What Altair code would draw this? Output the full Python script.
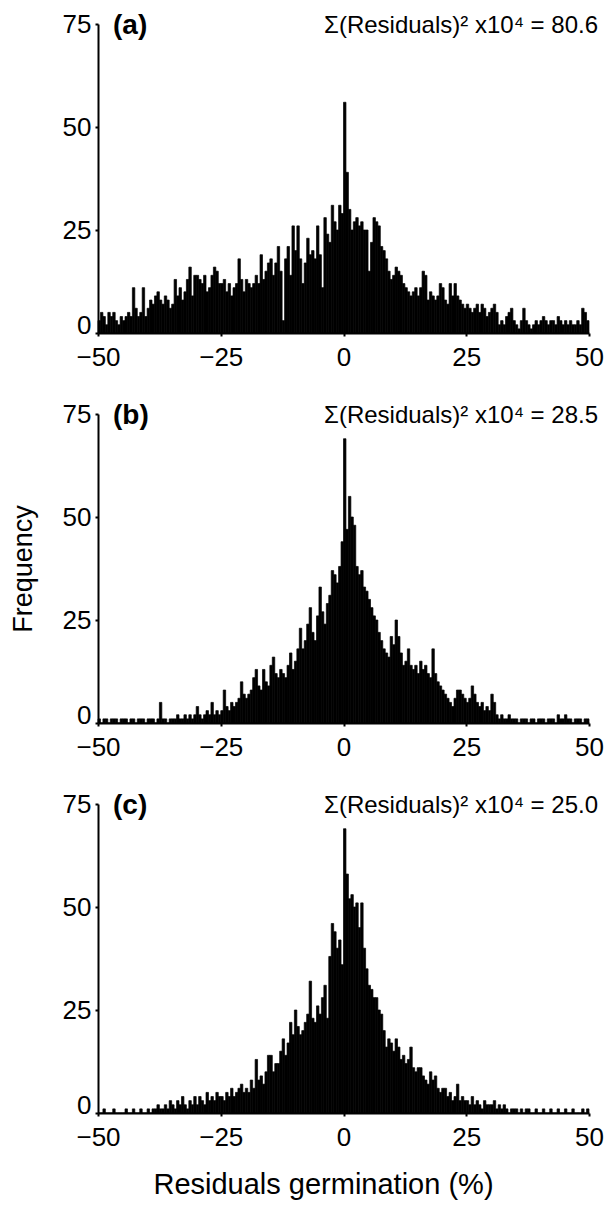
import altair as alt
import pandas as pd

# Histogram counts, bins of width 0.5 from -50 to 50 (200 bins per panel)
a_vals = [
    3, 5, 4, 2, 5, 4, 5, 3, 2, 4,
    3, 4, 5, 4, 11, 6, 4, 5, 11, 4,
    6, 8, 7, 9, 10, 8, 7, 9, 8, 6,
    7, 13, 9, 11, 8, 10, 13, 16, 9, 14,
    14, 13, 12, 14, 10, 11, 14, 16, 15, 12,
    12, 13, 10, 12, 9, 11, 12, 18, 13, 10,
    13, 12, 11, 12, 14, 12, 19, 13, 15, 17,
    18, 14, 17, 21, 15, 3, 18, 21, 14, 26,
    20, 26, 18, 12, 17, 23, 19, 20, 18, 26,
    19, 11, 28, 24, 22, 31, 27, 25, 31, 29,
    56, 39, 30, 25, 27, 28, 26, 27, 25, 25,
    15, 22, 28, 27, 26, 21, 20, 18, 15, 13,
    14, 16, 15, 14, 12, 11, 10, 9, 10, 11,
    9, 11, 15, 14, 8, 10, 9, 8, 9, 12,
    11, 8, 7, 12, 9, 12, 9, 8, 7, 6,
    7, 6, 5, 6, 7, 5, 7, 6, 4, 5,
    6, 7, 5, 2, 3, 2, 4, 5, 6, 3,
    2, 1, 3, 6, 3, 2, 1, 2, 3, 2,
    3, 4, 3, 2, 3, 3, 2, 4, 3, 2,
    3, 2, 3, 2, 2, 3, 2, 6, 5, 3,
]

b_vals = [
    1, 0, 1, 1, 0, 1, 1, 1, 0, 1,
    1, 1, 0, 1, 1, 0, 1, 1, 1, 0,
    1, 1, 1, 0, 1, 5, 1, 1, 0, 1,
    1, 1, 2, 1, 1, 2, 1, 2, 1, 2,
    4, 2, 1, 2, 3, 2, 5, 2, 3, 2,
    3, 8, 4, 3, 5, 4, 5, 6, 10, 7,
    6, 7, 8, 11, 13, 9, 8, 13, 10, 9,
    14, 16, 12, 11, 13, 12, 11, 14, 17, 13,
    15, 18, 23, 18, 20, 24, 28, 22, 20, 26,
    33, 27, 24, 29, 31, 37, 36, 34, 38, 44,
    69, 47, 55, 50, 48, 38, 36, 37, 33, 32,
    30, 28, 26, 25, 22, 20, 18, 17, 16, 21,
    19, 25, 21, 17, 14, 15, 18, 14, 13, 14,
    12, 15, 13, 14, 12, 11, 18, 12, 10, 9,
    8, 7, 6, 5, 4, 6, 8, 8, 7, 6,
    5, 6, 9, 7, 5, 4, 5, 3, 4, 3,
    7, 5, 2, 1, 2, 1, 1, 2, 1, 1,
    1, 0, 1, 1, 1, 0, 1, 1, 0, 1,
    1, 1, 0, 1, 1, 1, 0, 2, 1, 1,
    2, 1, 1, 0, 1, 1, 1, 0, 1, 1,
]

c_vals = [
    0, 0, 1, 0, 0, 0, 1, 0, 0, 0,
    0, 1, 0, 0, 1, 0, 0, 1, 0, 0,
    1, 0, 1, 1, 2, 1, 1, 2, 1, 3,
    2, 1, 3, 2, 4, 2, 1, 3, 2, 4,
    2, 4, 3, 2, 5, 3, 4, 3, 5, 4,
    4, 3, 5, 4, 6, 4, 5, 6, 7, 5,
    6, 5, 8, 6, 13, 8, 9, 7, 10, 14,
    14, 10, 12, 12, 15, 18, 14, 17, 22, 19,
    25, 21, 19, 20, 22, 24, 32, 23, 22, 26,
    24, 28, 31, 23, 38, 46, 44, 40, 42, 36,
    69, 58, 52, 53, 50, 51, 45, 51, 40, 35,
    31, 30, 28, 28, 25, 24, 20, 16, 18, 17,
    15, 18, 16, 13, 14, 12, 13, 16, 11, 10,
    11, 11, 9, 8, 7, 10, 8, 9, 6, 5,
    6, 6, 4, 5, 3, 4, 7, 3, 4, 3,
    3, 2, 4, 2, 3, 2, 1, 3, 2, 2,
    2, 3, 1, 2, 1, 2, 1, 0, 1, 1,
    1, 0, 1, 0, 1, 1, 0, 0, 1, 0,
    0, 1, 0, 0, 1, 0, 0, 1, 0, 0,
    1, 0, 0, 1, 0, 0, 0, 1, 0, 1,
]

panel_labels = ["(a)", "(b)", "(c)"]
sse_values = ["80.6", "28.5", "25.0"]
x_ticks = [-50, -25, 0, 25, 50]
y_ticks = [0, 25, 50, 75]
x_start = -50
bin_width = 0.5

FONT = "Liberation Sans"
W = 491
H = 309


def make_df(vals):
    starts = [x_start + bin_width * i for i in range(len(vals))]
    return pd.DataFrame({"x0": starts, "x1": [s + bin_width for s in starts], "count": vals})


def panel(vals, label, sse, xtitle, ytitle):
    df = make_df(vals)
    xkw = dict(values=x_ticks, format="d", labelFlush=False, labelOverlap=False,
               labelFontSize=26, labelPadding=8, tickSize=3, tickWidth=2,
               titleFontSize=29, titleFontWeight="normal", titlePadding=20,
               titleX=225, grid=False)
    ykw = dict(values=y_ticks, format="d", labelFlush=False, labelOverlap=False,
               labelFontSize=26, labelPadding=4, tickSize=3, tickWidth=2,
               labelBaseline=alt.expr("datum.value == 0 ? 'alphabetic' : 'middle'"),
               titleFontSize=27, titleFontWeight="normal", titlePadding=25,
               grid=False)
    if xtitle:
        xaxis = alt.Axis(title=xtitle, **xkw)
    else:
        xaxis = alt.Axis(title=None, **xkw)
    if ytitle:
        yaxis = alt.Axis(title=ytitle, **ykw)
    else:
        yaxis = alt.Axis(title=None, **ykw)

    bars = alt.Chart(df).mark_rect(color="black", stroke="black", strokeWidth=0.7).encode(
        x=alt.X("x0:Q", scale=alt.Scale(domain=[-50, 50], nice=False, zero=False), axis=xaxis),
        x2="x1:Q",
        y=alt.Y("count:Q", scale=alt.Scale(domain=[0, 75], nice=False), axis=yaxis),
        y2=alt.datum(0),
    )
    lab = alt.Chart(pd.DataFrame({"t": [label]})).mark_text(
        font=FONT, fontSize=28, fontWeight="bold", align="left", baseline="middle"
    ).encode(x=alt.value(15), y=alt.value(2), text="t:N")
    ann = alt.Chart(pd.DataFrame({"t": ["Σ(Residuals)² x10⁴ = " + sse]})).mark_text(
        font=FONT, fontSize=24, align="right", baseline="middle"
    ).encode(x=alt.value(500), y=alt.value(2), text="t:N")
    return alt.layer(bars, lab, ann).properties(width=W, height=H)


pa = panel(a_vals, panel_labels[0], sse_values[0], None, None)
pb = panel(b_vals, panel_labels[1], sse_values[1], None, "Frequency")
pc = panel(c_vals, panel_labels[2], sse_values[2], "Residuals germination (%)", None)

chart = alt.vconcat(pa, pb, pc, spacing=81, bounds="flush").properties(
    padding={"left": 9, "top": 11, "right": 5, "bottom": 5},
    background="white",
).configure_view(stroke=None).configure_axis(
    domainColor="black", domainWidth=2, tickColor="black", labelColor="black",
    titleColor="black", labelFont=FONT, titleFont=FONT,
).configure_text(color="black")

chart.save("out.html", embed_options={"renderer": "svg", "actions": False})
